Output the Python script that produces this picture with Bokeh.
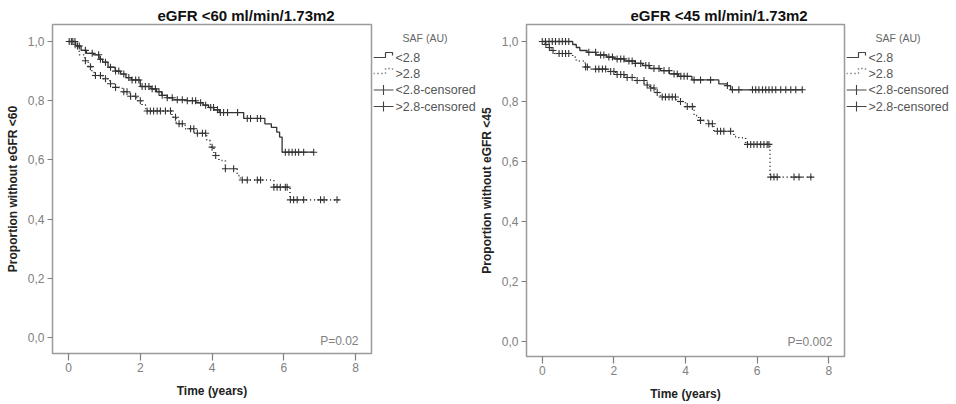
import numpy as np
from bokeh.plotting import figure
from bokeh.layouts import row
from bokeh.models import (Range1d, FixedTicker, Label, Title, CustomJSTickFormatter)
from bokeh.core.properties import value
from bokeh.embed import file_html
from bokeh.resources import INLINE

FONT = "Liberation Sans"

# ---------------- data: eGFR <60 panel ----------------
L_up_t = [0, 0.2, 0.35, 0.5, 0.7, 0.85, 0.95, 1.1, 1.3, 1.45, 1.6, 1.75, 2.0, 2.3, 2.45, 2.6,
          2.75, 2.9, 3.3, 3.55, 3.75, 3.9, 4.05, 4.2, 4.88, 5.47, 5.65, 5.8, 5.88, 5.95]
L_up_s = [1.0, 0.985, 0.97, 0.96, 0.955, 0.94, 0.93, 0.913, 0.9, 0.89, 0.878, 0.87, 0.848, 0.84,
          0.83, 0.818, 0.81, 0.803, 0.8, 0.793, 0.785, 0.777, 0.769, 0.76, 0.74, 0.722, 0.71,
          0.694, 0.677, 0.626]
L_up_end = 6.83
L_up_cens = [0.02, 0.08, 0.12, 0.18, 0.25, 0.3, 0.47, 0.66, 0.84, 0.89, 1.03, 1.17, 1.31, 1.4,
             1.54, 1.68, 1.77, 1.87, 1.96, 2.05, 2.14, 2.24, 2.33, 2.42, 2.52, 2.61, 2.75, 2.89,
             3.03, 3.17, 3.31, 3.45, 3.54, 3.68, 3.82, 3.96, 4.04, 4.15, 4.23, 4.32, 4.43, 4.71,
             4.98, 5.07, 5.26, 5.35, 6.04, 6.14, 6.23, 6.32, 6.41, 6.55, 6.83]

L_lo_t = [0, 0.15, 0.3, 0.45, 0.55, 0.65, 0.72, 0.95, 1.15, 1.3, 1.5, 1.7, 1.9, 2.05, 2.15, 2.88,
          3.0, 3.25, 3.5, 3.85, 3.95, 4.05, 4.19, 4.37, 4.7, 4.79, 5.72, 6.17]
L_lo_s = [1.0, 0.98, 0.955, 0.935, 0.915, 0.895, 0.885, 0.874, 0.857, 0.845, 0.83, 0.815, 0.8,
          0.785, 0.765, 0.744, 0.722, 0.705, 0.69, 0.665, 0.643, 0.615, 0.598, 0.57, 0.547,
          0.532, 0.508, 0.465]
L_lo_end = 7.53
L_lo_cens = [0.47, 0.61, 0.75, 0.89, 1.03, 1.17, 1.31, 1.54, 1.63, 1.73, 1.87, 2.0, 2.19, 2.28,
             2.37, 2.47, 2.56, 2.7, 2.84, 2.98, 3.08, 3.17, 3.4, 3.49, 3.59, 3.73, 3.82, 4.0,
             4.1, 4.37, 4.6, 4.84, 4.98, 5.26, 5.35, 5.72, 5.81, 5.9, 6.04, 6.09, 6.18, 6.27,
             6.37, 6.55, 7.02, 7.12, 7.48]

# ---------------- data: eGFR <45 panel ----------------
R_up_t = [0, 0.85, 0.95, 1.05, 1.25, 1.5, 1.8, 2.0, 2.3, 2.6, 2.8, 3.0, 3.3, 3.55, 3.8, 4.18,
          4.93, 5.17, 5.26]
R_up_s = [1.0, 0.99, 0.98, 0.97, 0.964, 0.955, 0.948, 0.942, 0.935, 0.927, 0.92, 0.91, 0.903,
          0.892, 0.884, 0.872, 0.859, 0.853, 0.839]
R_up_end = 7.26
R_up_cens = [0.0, 0.09, 0.19, 0.28, 0.37, 0.47, 0.56, 0.65, 0.74, 1.3, 1.49, 1.63, 1.72, 1.86,
             1.96, 2.09, 2.19, 2.28, 2.42, 2.51, 2.6, 2.75, 2.89, 2.98, 3.12, 3.26, 3.4, 3.54,
             3.68, 3.77, 3.87, 3.96, 4.05, 4.24, 4.42, 4.7, 5.17, 5.31, 5.49, 5.87, 5.96, 6.05,
             6.15, 6.24, 6.33, 6.42, 6.52, 6.66, 6.8, 6.94, 7.08, 7.26]

R_lo_t = [0, 0.08, 0.15, 0.25, 0.35, 0.85, 0.95, 1.2, 1.3, 1.8, 2.05, 2.3, 2.6, 2.85, 3.0, 3.15,
          3.3, 3.75, 4.0, 4.24, 4.37, 4.65, 4.79, 5.35, 5.49, 5.68, 6.36]
R_lo_s = [1.0, 0.99, 0.98, 0.97, 0.96, 0.948, 0.935, 0.915, 0.908, 0.9, 0.89, 0.88, 0.87, 0.855,
          0.845, 0.83, 0.815, 0.8, 0.783, 0.753, 0.737, 0.726, 0.701, 0.683, 0.679, 0.657, 0.548]
R_lo_end = 7.54
R_lo_cens = [0.1, 0.2, 0.3, 0.47, 0.56, 0.65, 0.74, 1.21, 1.26, 1.49, 1.58, 1.68, 1.77, 1.91,
             2.0, 2.09, 2.19, 2.28, 2.37, 2.51, 2.65, 2.84, 2.93, 3.03, 3.12, 3.21, 3.35, 3.44,
             3.54, 3.63, 3.72, 3.86, 4.05, 4.19, 4.42, 4.65, 4.75, 4.89, 4.98, 5.07, 5.26, 5.73,
             5.82, 5.91, 6.0, 6.1, 6.19, 6.28, 6.33, 6.38, 6.47, 6.56, 7.03, 7.17, 7.5]

X_TICKS = [0, 2, 4, 6, 8]
Y_TICKS = [0.0, 0.2, 0.4, 0.6, 0.8, 1.0]
LEGEND_TITLE = "SAF (AU)"
LEGEND_LABELS = ["<2.8", ">2.8", "<2.8-censored", ">2.8-censored"]

CURVE = "#333333"
GRAY = "#808080"


def level_at(times, levels, ct):
    idx = np.searchsorted(np.asarray(times), np.asarray(ct), side="right") - 1
    return np.asarray(levels)[idx]


def panel(title, ylab, pval, up, lo, geo):
    (w, h, bl, br, bt, bb, xr, yr, title_off, p_xy) = geo
    p = figure(width=w, height=h, output_backend="svg", toolbar_location=None,
               x_range=Range1d(*xr), y_range=Range1d(*yr),
               min_border_left=bl, min_border_right=br, min_border_top=bt,
               min_border_bottom=bb)
    p.frame_align = False
    p.grid.visible = False
    p.outline_line_color = "#9a9a9a"
    p.outline_line_width = 1.5
    p.background_fill_color = "white"
    p.border_fill_color = "white"

    p.title = Title(text=title, align="left", offset=title_off, standoff=1,
                    text_font=FONT, text_font_size="15px", text_font_style="bold",
                    text_color="#111111")

    for ax in (p.xaxis[0], p.yaxis[0]):
        ax.axis_line_color = None
        ax.major_tick_line_color = GRAY
        ax.major_tick_line_width = 1.2
        ax.minor_tick_line_color = None
        ax.major_tick_in = 0
        ax.major_label_text_font = FONT
        ax.major_label_text_font_size = "12px"
        ax.major_label_text_color = GRAY
        ax.axis_label_text_font = FONT
        ax.axis_label_text_font_size = "12px"
        ax.axis_label_text_font_style = "bold"
        ax.axis_label_text_color = "#222222"
    p.xaxis.ticker = FixedTicker(ticks=X_TICKS)
    p.yaxis.ticker = FixedTicker(ticks=Y_TICKS)
    p.yaxis.formatter = CustomJSTickFormatter(code="return tick.toFixed(1).replace('.', ',');")
    p.xaxis.major_tick_out = 7
    p.yaxis.major_tick_out = 5
    p.xaxis.major_label_standoff = 2
    p.yaxis.major_label_standoff = 3
    p.xaxis.axis_label_standoff = 9
    p.yaxis.axis_label_standoff = 5
    p.xaxis.axis_label = "Time (years)"
    p.yaxis.axis_label = ylab

    (ut, us, uend, uc), (lt, ls, lend, lc) = up, lo
    p.step(x=ut + [uend], y=us + [us[-1]], mode="after", line_color=CURVE, line_width=1.3)
    p.step(x=lt + [lend], y=ls + [ls[-1]], mode="after", line_color=CURVE,
           line_width=1.6, line_dash="1 3")
    p.scatter(x=uc, y=level_at(ut, us, uc), marker="cross", size=7,
              line_color=CURVE, line_width=1.1)
    p.scatter(x=lc, y=level_at(lt, ls, lc), marker="cross", size=7,
              line_color=CURVE, line_width=1.1)

    p.add_layout(Label(x=p_xy[0], y=p_xy[1], x_units="screen", y_units="screen",
                       text=pval, text_font=FONT, text_font_size="12px",
                       text_color=GRAY, text_align="right", text_baseline="middle"))
    return p


def legend_panel(w, h):
    # a small companion canvas (pixel coordinates, y downwards) holding the key
    lg = figure(width=w, height=h, output_backend="svg", toolbar_location=None,
                x_range=Range1d(0, w), y_range=Range1d(h, 0),
                x_axis_location=None, y_axis_location=None,
                min_border_left=0, min_border_right=0, min_border_top=0,
                min_border_bottom=0)
    lg.frame_align = False
    lg.grid.visible = False
    lg.outline_line_color = None
    lg.border_fill_color = "white"
    rows = [57, 73, 89.5, 106]
    # solid and dotted step symbols
    lg.line(x=[0, 12, 12, 19, 19], y=[rows[0], rows[0], rows[0] - 5, rows[0] - 5, rows[0] - 2],
            line_color="#444444", line_width=1.2)
    lg.line(x=[0, 12, 12, 19, 19], y=[rows[1], rows[1], rows[1] - 5, rows[1] - 5, rows[1] - 2],
            line_color="#444444", line_width=1.4, line_dash="1 3")
    # censored symbols: line with a cross
    lg.segment(x0=[0, 0], y0=rows[2:], x1=[20, 20], y1=rows[2:], line_color="#444444",
               line_width=1.1)
    lg.segment(x0=[10, 10], y0=[r - 5 for r in rows[2:]], x1=[10, 10],
               y1=[r + 5 for r in rows[2:]], line_color="#444444", line_width=1.1)
    lg.text(x=[22] * 4, y=rows, text=LEGEND_LABELS, text_font=value(FONT),
            text_font_size=value("12.5px"), text_color="#555555", text_baseline="middle",
            text_align="left")
    lg.text(x=[51.5], y=[37], text=[LEGEND_TITLE], text_font=value(FONT),
            text_font_size=value("10.5px"), text_color="#666666", text_baseline="middle",
            text_align="center")
    return lg


geo_left = (373, 404, 52, 2, 24, 51, (-0.446, 8.44), (-0.054, 1.0574), 105, (306, 13))
geo_right = (370, 404, 50, 2, 24, 48, (-0.44, 8.44), (-0.05, 1.0567), 104, (306, 15))

p1 = panel("eGFR <60 ml/min/1.73m2", "Proportion without eGFR <60", "P=0.02",
           (L_up_t, L_up_s, L_up_end, L_up_cens), (L_lo_t, L_lo_s, L_lo_end, L_lo_cens),
           geo_left)
p2 = panel("eGFR <45 ml/min/1.73m2", "Proportion without eGFR <45", "P=0.002",
           (R_up_t, R_up_s, R_up_end, R_up_cens), (R_lo_t, R_lo_s, R_lo_end, R_lo_cens),
           geo_right)
g1 = legend_panel(103, 404)
g2 = legend_panel(110, 404)

layout = row(p1, g1, p2, g2, spacing=0)
open("out.html", "w").write(file_html(layout, INLINE))
